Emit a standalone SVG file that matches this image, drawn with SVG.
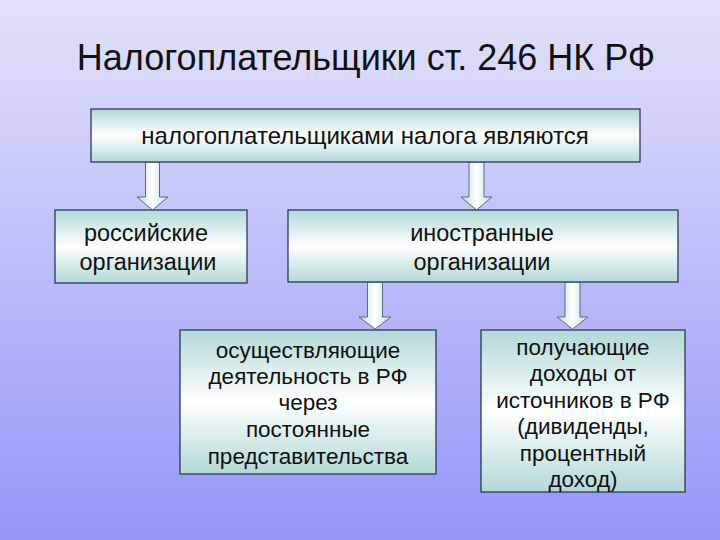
<svg xmlns="http://www.w3.org/2000/svg" width="720" height="540" viewBox="0 0 720 540">
<defs>
<linearGradient id="bg" x1="0" y1="0" x2="0" y2="1">
<stop offset="0" stop-color="#e2e2fa"/>
<stop offset="1" stop-color="#9696f8"/>
</linearGradient>
<linearGradient id="boxg" x1="0" y1="0" x2="0" y2="1">
<stop offset="0" stop-color="#b2d8d8"/>
<stop offset="0.5" stop-color="#ffffff"/>
<stop offset="1" stop-color="#b2d8d8"/>
</linearGradient>
<linearGradient id="arrg" x1="0" y1="0" x2="1" y2="0">
<stop offset="0" stop-color="#bcdcdc"/>
<stop offset="0.5" stop-color="#ffffff"/>
<stop offset="1" stop-color="#bcdcdc"/>
</linearGradient>
<style>
.box{fill:url(#boxg);stroke:#2c3a5a;stroke-width:1.3}
.arr{fill:url(#arrg);stroke:#5a6a8a;stroke-width:1}
text{font-family:"Liberation Sans",Arial,sans-serif;fill:#111;text-anchor:middle}
.t{font-size:22.5px}
.m{font-size:23.5px}
.h{font-size:24px}
.title{font-size:36px}
</style>
</defs>
<rect x="0" y="0" width="720" height="540" fill="url(#bg)"/>
<text class="title" x="366" y="70">Налогоплательщики ст. 246 НК РФ</text>

<g id="connectors">
<path class="arr" d="M145.5,162 H159.5 V197 H168 L152.5,210 L137,197 H145.5 Z"/>
<path class="arr" d="M469,162 H484 V197 H492 L476.5,210 L461,197 H469 Z"/>
<path class="arr" d="M367.5,282 H382.5 V317 H391 L375,329 L359,317 H367.5 Z"/>
<path class="arr" d="M565,282 H580 V317 H588 L572.5,329 L557,317 H565 Z"/>
</g>

<g id="top">
<rect class="box" x="91" y="109" width="549" height="53"/>
<text class="h" x="365" y="144">налогоплательщиками налога являются</text>
</g>
<g id="russian">
<rect class="box" x="55" y="210" width="192" height="73"/>
<text class="m" x="146" y="241">российские</text>
<text class="m" x="148" y="270">организации</text>
</g>
<g id="foreign">
<rect class="box" x="288" y="210" width="390" height="72"/>
<text class="m" x="482" y="241">иностранные</text>
<text class="m" x="482" y="270">организации</text>
</g>
<g id="permanent">
<rect class="box" x="180" y="330" width="256" height="144"/>
<text class="t" x="308" y="358">осуществляющие</text>
<text class="t" x="308" y="384">деятельность в РФ</text>
<text class="t" x="308" y="410">через</text>
<text class="t" x="308" y="437">постоянные</text>
<text class="t" x="308" y="464">представительства</text>
</g>
<g id="income">
<rect class="box" x="481" y="330" width="204" height="162"/>
<text class="t" x="583" y="355">получающие</text>
<text class="t" x="583" y="381">доходы от</text>
<text class="t" x="583" y="408">источников в РФ</text>
<text class="t" x="583" y="434">(дивиденды,</text>
<text class="t" x="583" y="461">процентный</text>
<text class="t" x="583" y="487">доход)</text>
</g>
</svg>
